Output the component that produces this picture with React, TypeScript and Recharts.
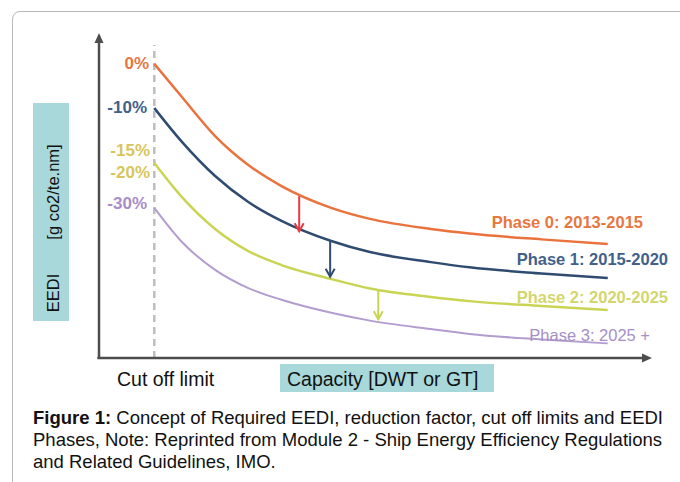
import React from 'react'
import { LineChart, Line, XAxis, YAxis, ReferenceLine } from 'recharts'

// capacity (x) in arbitrary units, EEDI (y) in arbitrary units, both 0..100
const capacity = [10, 15, 21, 27, 33, 42, 49, 60, 67, 80, 92]
const phase0 = [90.5, 80.3, 68.3, 59.4, 52.9, 46.2, 42.8, 39.7, 38.3, 36.5, 35.1]
const phase1 = [76.9, 66.5, 56, 48, 42.2, 36, 32.6, 29.5, 27.9, 26, 24.6]
const phase2 = [60, 49.5, 39.7, 32.9, 28.6, 24.3, 21.4, 18.8, 17.5, 16, 14.8]
const phase3 = [46.2, 35.7, 27.1, 21.5, 17.9, 13.9, 11.5, 8.9, 7.4, 5.7, 4.5]

const cutOff = 10
const reductionLabels = ['0%', '-10%', '-15%', '-20%', '-30%']
const phaseNames = ['Phase 0: 2013-2015', 'Phase 1: 2015-2020', 'Phase 2: 2020-2025', 'Phase 3: 2025 +']

// step-down arrows between phases
const arrowX = [36.2, 41.8, 50.5]
const arrowFrom = [49.8, 35.9, 21.2]
const arrowTo = [39, 25, 11.9]

const ORANGE = '#e9723d'
const NAVY = '#2f4b70'
const YELLOW = '#cad453'
const PURPLE = '#b39dd0'
const RED = '#e83a45'
const AXIS = '#4d4d4d'
const CYAN = '#a8d8da'
const FONT = '"Liberation Sans", Arial, sans-serif'

const rows = capacity.map((c, i) => ({
  capacity: c,
  p0: phase0[i],
  p1: phase1[i],
  p2: phase2[i],
  p3: phase3[i],
}))

const arrowShape = (len: number, half: number, filled: boolean) => (p: any) => {
  const { x1, y1, x2, y2, stroke, strokeWidth } = p
  const a = Math.atan2(y2 - y1, x2 - x1)
  const bx = x2 - len * Math.cos(a)
  const by = y2 - len * Math.sin(a)
  const lx = bx + half * Math.sin(a)
  const ly = by - half * Math.cos(a)
  const rx = bx - half * Math.sin(a)
  const ry = by + half * Math.cos(a)
  return (
    <g>
      <line x1={x1} y1={y1} x2={filled ? bx : x2} y2={filled ? by : y2} stroke={stroke} strokeWidth={strokeWidth} />
      {filled ? (
        <polygon points={`${x2},${y2} ${lx},${ly} ${rx},${ry}`} fill={stroke} />
      ) : (
        <polyline points={`${lx},${ly} ${x2},${y2} ${rx},${ry}`} fill="none" stroke={stroke} strokeWidth={strokeWidth} />
      )}
    </g>
  )
}

const arrowColors = [RED, NAVY, YELLOW]

export default function App() {
  return (
    <div style={{ position: 'absolute', left: 0, top: 0, width: 680, height: 482, overflow: 'hidden', background: '#fff', fontFamily: FONT }}>
      <div style={{ position: 'absolute', left: 12, top: 11, width: 720, height: 520, border: '1px solid #b8b8b8', borderRadius: 8 }} />
      <div style={{ position: 'absolute', left: 33, top: 103, width: 36, height: 218, background: CYAN }} />
      <div style={{ position: 'absolute', left: 280, top: 364, width: 214, height: 28, background: CYAN }} />

      <div style={{ position: 'absolute', left: 0, top: 0 }}>
        <LineChart width={680} height={482} data={rows} margin={{ top: 33, left: 99, right: 28, bottom: 124 }}>
          <XAxis type="number" dataKey="capacity" domain={[0, 100]} hide />
          <YAxis type="number" domain={[0, 100]} hide />
          <ReferenceLine segment={[{ x: cutOff, y: 0 }, { x: cutOff, y: 96.3 }]} stroke="#bdbdbd" strokeWidth={2.5} strokeDasharray="7 5" />
          <Line dataKey="p0" type="monotone" stroke={ORANGE} strokeWidth={2.5} dot={false} activeDot={false} isAnimationActive={false} />
          <Line dataKey="p1" type="monotone" stroke={NAVY} strokeWidth={2.5} dot={false} activeDot={false} isAnimationActive={false} />
          <Line dataKey="p2" type="monotone" stroke={YELLOW} strokeWidth={2.5} dot={false} activeDot={false} isAnimationActive={false} />
          <Line dataKey="p3" type="monotone" stroke={PURPLE} strokeWidth={2} dot={false} activeDot={false} isAnimationActive={false} />
          {arrowX.map((x, i) => (
            <ReferenceLine
              key={`arrow-${i}`}
              segment={[{ x, y: arrowFrom[i] }, { x, y: arrowTo[i] }]}
              stroke={arrowColors[i]}
              strokeWidth={2}
              shape={arrowShape(8, 4.5, false)}
            />
          ))}
          <ReferenceLine segment={[{ x: 0, y: 0 }, { x: 0, y: 100 }]} stroke={AXIS} strokeWidth={2.5} shape={arrowShape(10, 4.5, true)} />
          <ReferenceLine segment={[{ x: -0.3, y: 0 }, { x: 100, y: 0 }]} stroke={AXIS} strokeWidth={2.5} shape={arrowShape(10, 4.5, true)} ifOverflow="visible" />
        </LineChart>
      </div>

      <svg width={680} height={482} style={{ position: 'absolute', left: 0, top: 0, pointerEvents: 'none' }} fontFamily={FONT}>
        <g fontSize={17} fontWeight="bold" textAnchor="end" dominantBaseline="central">
          <text x={149} y={63} fill="#e8773f">{reductionLabels[0]}</text>
          <text x={147} y={107} fill="#41618b">{reductionLabels[1]}</text>
          <text x={150} y={150} fill="#d8c65a">{reductionLabels[2]}</text>
          <text x={150} y={172} fill="#d8c65a">{reductionLabels[3]}</text>
          <text x={147} y={203} fill="#a88dc9">{reductionLabels[4]}</text>
        </g>
        <g fontSize={16.5} textAnchor="end" dominantBaseline="central">
          <text x={643} y={222} fill="#e8773f" fontWeight="bold">{phaseNames[0]}</text>
          <text x={668} y={259} fill="#41618b" fontWeight="bold">{phaseNames[1]}</text>
          <text x={668} y={297} fill="#d3d66e" fontWeight="bold">{phaseNames[2]}</text>
          <text x={650} y={335} fill="#a68fc6">{phaseNames[3]}</text>
        </g>
        <g fontSize={16.5} fill="#111" textAnchor="middle" dominantBaseline="central">
          <text transform="translate(53,293) rotate(-90)">EEDI</text>
          <text transform="translate(53,192) rotate(-90)">[g co2/te.nm]</text>
        </g>
        <text x={117} y={379} fontSize={19.5} fill="#111" dominantBaseline="central">Cut off limit</text>
        <text x={287} y={379} fontSize={19.5} fill="#111" dominantBaseline="central">Capacity [DWT or GT]</text>
      </svg>

      <div style={{ position: 'absolute', left: 33, top: 407, fontSize: 18.5, lineHeight: '22px', color: '#111', whiteSpace: 'nowrap' }}>
        <b>Figure 1:</b> Concept of Required EEDI, reduction factor, cut off limits and EEDI
        <br />
        Phases, Note: Reprinted from Module 2 - Ship Energy Efficiency Regulations
        <br />
        and Related Guidelines, IMO.
      </div>
    </div>
  )
}
